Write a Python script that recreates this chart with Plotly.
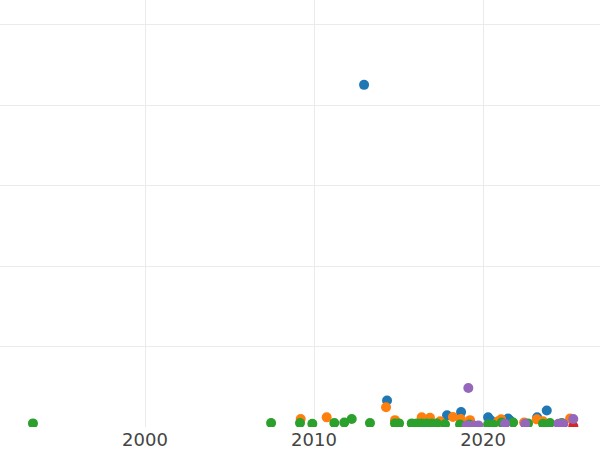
import plotly.graph_objects as go

# Series data (year, value)
blue_x = [2012.96, 2014.32, 2017.87, 2018.70, 2020.30, 2020.47, 2021.48, 2021.60, 2022.54, 2023.20, 2023.77]
blue_y = [85.1, 6.6, 2.9, 3.7, 2.4, 1.6, 2.1, 1.6, 0.6, 2.4, 4.1]

orange_x = [2009.21, 2010.75, 2014.26, 2014.79, 2016.37, 2016.86, 2017.46, 2018.22, 2018.68, 2019.23,
            2020.89, 2021.07, 2022.43, 2023.18, 2023.55, 2025.15]
orange_y = [2.0, 2.4, 4.9, 1.7, 2.4, 2.3, 1.4, 2.5, 2.0, 1.7,
            1.4, 1.9, 1.1, 1.9, 1.4, 2.1]

green_x = [1993.37, 2007.46, 2009.17, 2009.90, 2011.20, 2011.79, 2012.23, 2013.31, 2014.79, 2015.03,
           2015.78, 2016.08, 2016.37, 2016.67, 2016.96, 2017.26, 2017.75, 2018.64, 2019.20, 2020.30,
           2020.59, 2021.10, 2021.78, 2022.66, 2023.55, 2023.96, 2024.66]
green_y = [0.9, 1.0, 1.0, 0.8, 1.0, 1.1, 2.0, 1.0, 0.9, 0.9,
           0.9, 0.9, 0.9, 0.9, 0.9, 0.9, 0.7, 0.6, 0.6, 0.6,
           0.6, 1.1, 1.1, 0.9, 0.8, 1.0, 1.0]

red_x = [2025.34]
red_y = [0.2]

purple_x = [2019.13, 2019.04, 2019.43, 2019.72, 2021.30, 2022.49, 2024.46, 2024.75, 2025.34]
purple_y = [9.7, 0.4, 0.4, 0.4, 0.8, 0.8, 0.8, 0.8, 2.0]

x_tickvals = [2000, 2010, 2020]
x_ticktext = ["2000", "2010", "2020"]

series = [
    (blue_x, blue_y, "#1f77b4"),
    (orange_x, orange_y, "#ff7f0e"),
    (green_x, green_y, "#2ca02c"),
    (red_x, red_y, "#d62728"),
    (purple_x, purple_y, "#9467bd"),
]

fig = go.Figure()
for xs, ys, c in series:
    fig.add_trace(go.Scatter(x=xs, y=ys, mode="markers",
                             marker=dict(size=10, color=c, line=dict(width=0))))

fig.update_layout(
    width=600, height=450,
    margin=dict(l=0, r=0, t=0, b=22.5, pad=0),
    paper_bgcolor="white", plot_bgcolor="white",
    showlegend=False,
    font=dict(family="DejaVu Sans, sans-serif", size=18, color="#444"),
)
fig.update_xaxes(range=[1991.42, 2026.92], tickvals=x_tickvals, ticktext=x_ticktext,
                 showgrid=True, gridcolor="#ebebeb", gridwidth=1, zeroline=False,
                 showline=False, ticks="", automargin=False)
fig.update_yaxes(range=[0, 106.2], dtick=20, tick0=0, showticklabels=False,
                 showgrid=True, gridcolor="#ebebeb", gridwidth=1, zeroline=False,
                 showline=False, ticks="", automargin=False)

fig.write_html("out.html", config={"displayModeBar": False},
               post_script="document.body.style.margin='0';document.body.style.overflow='hidden';")
